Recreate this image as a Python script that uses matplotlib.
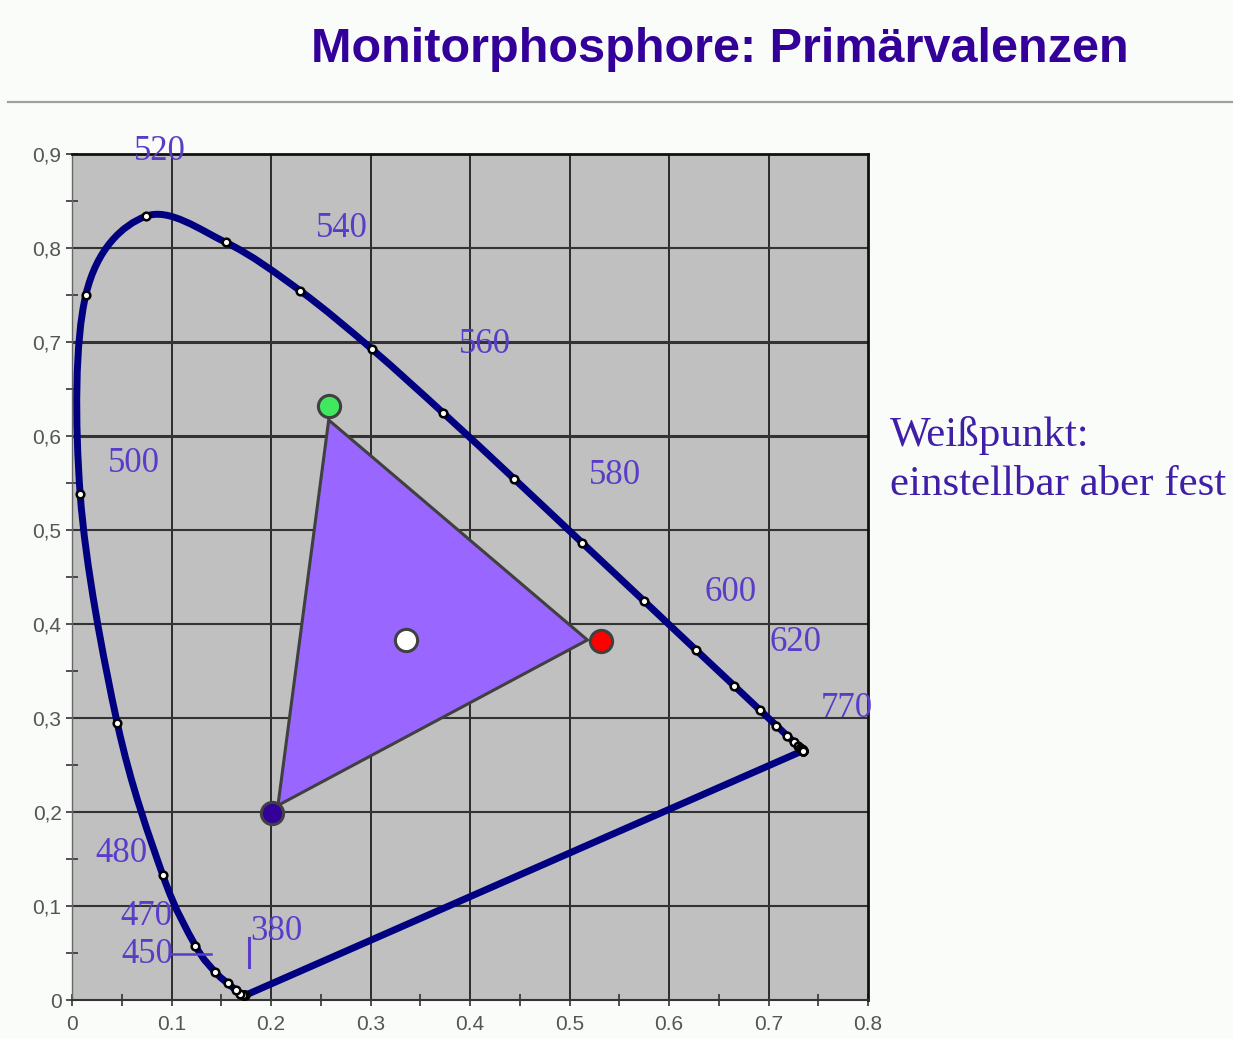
import matplotlib.pyplot as plt
import numpy as np
from matplotlib.lines import Line2D
from matplotlib.patches import PathPatch, Polygon
from matplotlib.path import Path

# CIE 1931 spectral locus, 10 nm steps
wavelengths = [380, 390, 400, 410, 420, 430, 440, 450, 460, 470, 480, 490,
               500, 510, 520, 530, 540, 550, 560, 570, 580, 590, 600, 610,
               620, 630, 640, 650, 660, 670, 680, 690, 700, 710, 720, 730,
               740, 750, 760, 770]
locus_x = [0.1741, 0.1738, 0.1733, 0.1726, 0.1714, 0.1689, 0.1644, 0.1566,
           0.1440, 0.1241, 0.0913, 0.0454, 0.0082, 0.0139, 0.0743, 0.1547,
           0.2296, 0.3016, 0.3731, 0.4441, 0.5125, 0.5752, 0.6270, 0.6658,
           0.6915, 0.7079, 0.7190, 0.7260, 0.7300, 0.7320, 0.7334, 0.7344,
           0.7347, 0.7347, 0.7347, 0.7347, 0.7347, 0.7347, 0.7347, 0.7347]
locus_y = [0.0050, 0.0049, 0.0048, 0.0048, 0.0051, 0.0069, 0.0109, 0.0177,
           0.0297, 0.0578, 0.1327, 0.2950, 0.5384, 0.7502, 0.8338, 0.8059,
           0.7543, 0.6923, 0.6245, 0.5547, 0.4866, 0.4242, 0.3725, 0.3340,
           0.3083, 0.2920, 0.2809, 0.2740, 0.2700, 0.2680, 0.2666, 0.2656,
           0.2653, 0.2653, 0.2653, 0.2653, 0.2653, 0.2653, 0.2653, 0.2653]

# monitor phosphor primaries (markers) and drawn gamut triangle
primary_names = ["R", "G", "B"]
primary_x = [0.532, 0.258, 0.201]
primary_y = [0.382, 0.632, 0.199]
gamut_x = [0.518, 0.258, 0.207]
gamut_y = [0.383, 0.617, 0.207]
white_x = 0.336
white_y = 0.383

label_texts = ["520", "540", "560", "580", "600", "620", "770",
               "500", "480", "470", "450", "380"]

title = "Monitorphosphore: Primärvalenzen"
side_note = "Weißpunkt:\neinstellbar aber fest"


def smooth_path(xs, ys, k=1 / 6):
    """Excel-like smoothed line: cubic Bezier segments through every point."""
    pts = np.column_stack([xs, ys])
    n = len(pts)
    verts = [pts[0]]
    codes = [Path.MOVETO]
    for i in range(n - 1):
        p0 = pts[max(i - 1, 0)]
        p1 = pts[i]
        p2 = pts[i + 1]
        p3 = pts[min(i + 2, n - 1)]
        verts += [p1 + (p2 - p0) * k, p2 - (p3 - p1) * k, p2]
        codes += [Path.CURVE4] * 3
    return Path(verts, codes)


label_color = "#5a3cc8"
navy = "#000080"
primary_colors = {"R": "#ff0000", "G": "#40e860", "B": "#330099"}

fig = plt.figure(figsize=(12.33, 10.39), dpi=100, facecolor="#fafcfa")
ax = fig.add_axes([72 / 1233, 1 - 1000 / 1039, 796 / 1233, 846 / 1039])
ax.set_facecolor("#c0c0c0")
ax.set_xlim(0, 0.8)
ax.set_ylim(0, 0.9)

xt = np.round(np.arange(0, 0.81, 0.1), 1)
yt = np.round(np.arange(0, 0.91, 0.1), 1)
ax.set_xticks(xt)
ax.set_xticklabels(["0" if v == 0 else f"{v:.1f}" for v in xt])
ax.set_yticks(yt)
ax.set_yticklabels(["0" if v == 0 else f"{v:.1f}".replace(".", ",") for v in yt])
ax.set_xticks(np.arange(0.05, 0.8, 0.1), minor=True)
ax.set_yticks(np.arange(0.05, 0.9, 0.1), minor=True)
ax.tick_params(which="major", direction="inout", length=9, width=1.2,
               color="#333333", labelsize=15, labelcolor="#555555")
ax.tick_params(axis="x", which="major", pad=6)
ax.tick_params(axis="y", which="major", pad=3)
ax.tick_params(which="minor", direction="inout", length=8, width=1.2,
               color="#333333")
for lab in ax.get_xticklabels() + ax.get_yticklabels():
    lab.set_family("Liberation Sans")

# grid
for v in xt[1:-1]:
    ax.axvline(v, color="#111111", lw=1.2, zorder=1)
for v in yt[1:-1]:
    lw = 2.2 if v in (0.6, 0.7) else 1.5
    ax.axhline(v, color="#333333", lw=lw, zorder=1)

ax.spines["left"].set_color("#666666")
ax.spines["left"].set_linewidth(1.0)
ax.spines["bottom"].set_color("#333333")
ax.spines["bottom"].set_linewidth(1.5)
for s in ("top", "right"):
    ax.spines[s].set_color("#111111")
    ax.spines[s].set_linewidth(2.0)

# spectral locus and purple line
ax.add_patch(PathPatch(smooth_path(locus_x, locus_y), fill=False,
                       edgecolor=navy, lw=5, zorder=3,
                       capstyle="round", joinstyle="round"))
ax.plot([locus_x[-1], locus_x[0]], [locus_y[-1], locus_y[0]],
        color=navy, lw=5, zorder=3, solid_capstyle="round")
ax.plot(locus_x, locus_y, ls="none", marker="o", ms=5.5, mfc="white",
        mec="black", mew=1.8, zorder=4)

# gamut triangle
ax.add_patch(Polygon(np.column_stack([gamut_x, gamut_y]), closed=True,
                     facecolor="#9966ff", edgecolor="#404040", lw=2.2,
                     zorder=5))
for name, px, py in zip(primary_names, primary_x, primary_y):
    ax.plot(px, py, marker="o", ms=16, mfc=primary_colors[name],
            mec="#404040", mew=2.2, zorder=6)
ax.plot(white_x, white_y, marker="o", ms=16, mfc="white",
        mec="#404040", mew=2.2, zorder=6)

# wavelength labels
label_pos = [(0.0884, 0.903), (0.2714, 0.821), (0.415, 0.697),
             (0.546, 0.5585), (0.662, 0.433), (0.7276, 0.380),
             (0.779, 0.3096), (0.0623, 0.571), (0.0492, 0.156),
             (0.0744, 0.0883), (0.0754, 0.0479), (0.205, 0.0734)]
for txt, (lx, ly) in zip(label_texts, label_pos):
    ax.text(lx, ly, txt, color=label_color, fontsize=25,
            family="Liberation Serif", ha="center", va="center",
            zorder=7, clip_on=False)
ax.plot([0.0985, 0.1397], [0.049, 0.049], color=label_color, lw=1.8, zorder=7)
ax.plot([0.178, 0.178], [0.035, 0.066], color=label_color, lw=2.2, zorder=7)

# title, rule and side note
fig.text(0.584, 1 - 49 / 1039, title, ha="center", va="center",
         fontsize=35, fontweight="bold", color="#330099",
         family="Liberation Sans")
fig.add_artist(Line2D([8 / 1233, 1], [1 - 102 / 1039] * 2,
                      color="#a0a0a0", lw=1.6))
fig.text(890 / 1233, 1 - 460 / 1039, side_note, ha="left", va="center",
         fontsize=31, color="#3f1fa8", family="Liberation Serif",
         linespacing=1.35)

fig.savefig("out.png", dpi=100, facecolor=fig.get_facecolor())
